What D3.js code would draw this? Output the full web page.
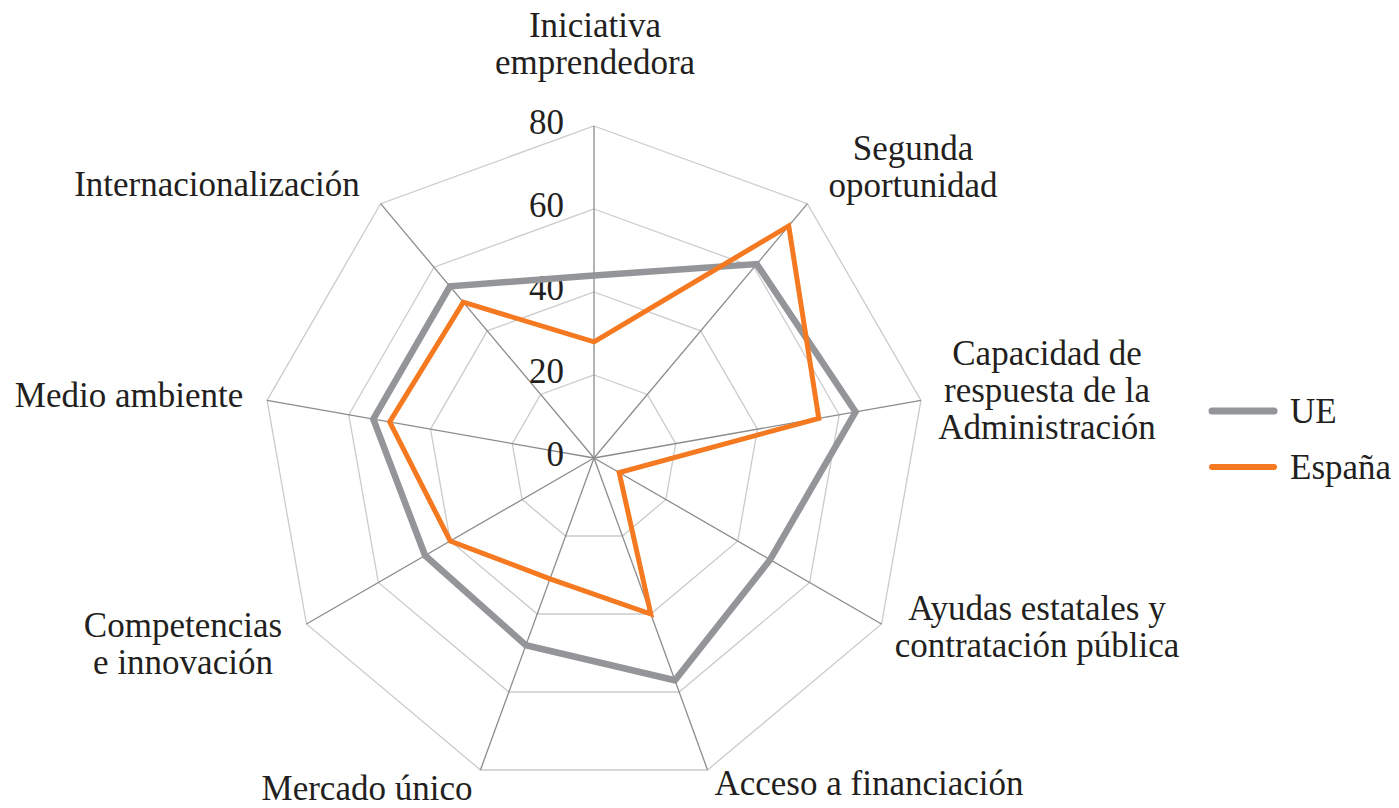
<!DOCTYPE html>
<html>
<head>
<meta charset="utf-8">
<script src="https://cdn.jsdelivr.net/npm/d3@7"></script>
<style>
  body { margin: 0; background: #fff; }
  text { font-family: "Liberation Serif", "Times New Roman", serif; fill: #231f20; }
</style>
</head>
<body>
<script>
var width = 1399, height = 808;
var cx = 594, cy = 458, radius = 332;

// axis names, clockwise from the top
var categories = [
  ['Iniciativa', 'emprendedora'],
  ['Segunda', 'oportunidad'],
  ['Capacidad de', 'respuesta de la', 'Administración'],
  ['Ayudas estatales y', 'contratación pública'],
  ['Acceso a financiación'],
  ['Mercado único'],
  ['Competencias', 'e innovación'],
  ['Medio ambiente'],
  ['Internacionalización']
];
var ueValues = [44, 61, 64, 49, 57, 48, 47, 54, 54];
var espValues = [28, 73, 55, 7, 40, 31, 40, 50, 49];
var ticks = [0, 20, 40, 60, 80];
var seriesNames = ['UE', 'España'];
var colors = ['#939598', '#f47920'];

// where each label block goes (first baseline)
var labelPos = [
  [595, 37], [913, 160], [1047, 365], [1037, 620], [869, 795],
  [367, 800], [183, 637], [129, 407], [217, 196]
];

var n = categories.length;
var r = d3.scaleLinear().domain([0, 80]).range([0, radius]);
var angle = d3.scaleLinear().domain([0, n]).range([0, 2 * Math.PI]);

function pt(i, v) {
  var a = angle(i);
  return [Math.sin(a) * r(v), -Math.cos(a) * r(v)];
}

var svg = d3.select('body').append('svg')
  .attr('width', width)
  .attr('height', height);

var g = svg.append('g')
  .attr('transform', 'translate(' + cx + ',' + cy + ')');

// rings
g.selectAll('.ring')
  .data(ticks.slice(1))
  .enter().append('polygon')
  .attr('points', function(t) {
    return d3.range(n).map(function(i) { return pt(i, t).join(','); }).join(' ');
  })
  .style('fill', 'none')
  .style('stroke', '#cbcbcb')
  .style('stroke-width', 1.3);

// spokes
g.selectAll('.spoke')
  .data(d3.range(n))
  .enter().append('line')
  .attr('x1', 0).attr('y1', 0)
  .attr('x2', function(i) { return pt(i, 80)[0]; })
  .attr('y2', function(i) { return pt(i, 80)[1]; })
  .style('stroke', '#8c8c8c')
  .style('stroke-width', 1.3);

// tick labels
g.selectAll('.tick')
  .data(ticks)
  .enter().append('text')
  .attr('x', -30)
  .attr('y', function(t) { return -r(t) - 4; })
  .attr('dy', '0.35em')
  .style('text-anchor', 'end')
  .style('font-size', '35px')
  .text(function(t) { return t; });

// series
var line = d3.lineRadial()
  .angle(function(d, i) { return angle(i); })
  .radius(function(d) { return r(d); })
  .curve(d3.curveLinearClosed);

var series = [ueValues, espValues];
var widths = [6.5, 5];

g.selectAll('.series')
  .data(series)
  .enter().append('path')
  .attr('d', line)
  .style('fill', 'none')
  .style('stroke', function(d, i) { return colors[i]; })
  .style('stroke-width', function(d, i) { return widths[i]; })
  .style('stroke-linejoin', 'miter');

// axis labels
var lab = svg.selectAll('.label')
  .data(categories)
  .enter().append('text')
  .attr('x', function(d, i) { return labelPos[i][0]; })
  .attr('y', function(d, i) { return labelPos[i][1]; })
  .style('text-anchor', 'middle')
  .style('font-size', '35px');

lab.selectAll('tspan')
  .data(function(d, i) { return d.map(function(s) { return { s: s, x: labelPos[i][0] }; }); })
  .enter().append('tspan')
  .attr('x', function(d) { return d.x; })
  .attr('dy', function(d, j) { return j === 0 ? 0 : 37; })
  .text(function(d) { return d.s; });

// legend
var leg = svg.selectAll('.legend')
  .data(seriesNames)
  .enter().append('g')
  .attr('transform', function(d, i) { return 'translate(1212,' + (411 + i * 56) + ')'; });

leg.append('line')
  .attr('x1', 0).attr('x2', 62)
  .attr('y1', 0).attr('y2', 0)
  .style('stroke', function(d, i) { return colors[i]; })
  .style('stroke-width', function(d, i) { return i === 0 ? 7 : 6; })
  .style('stroke-linecap', 'round');

leg.append('text')
  .attr('x', 78)
  .attr('y', 0)
  .attr('dy', '0.33em')
  .style('font-size', '35px')
  .text(function(d) { return d; });
</script>
</body>
</html>
